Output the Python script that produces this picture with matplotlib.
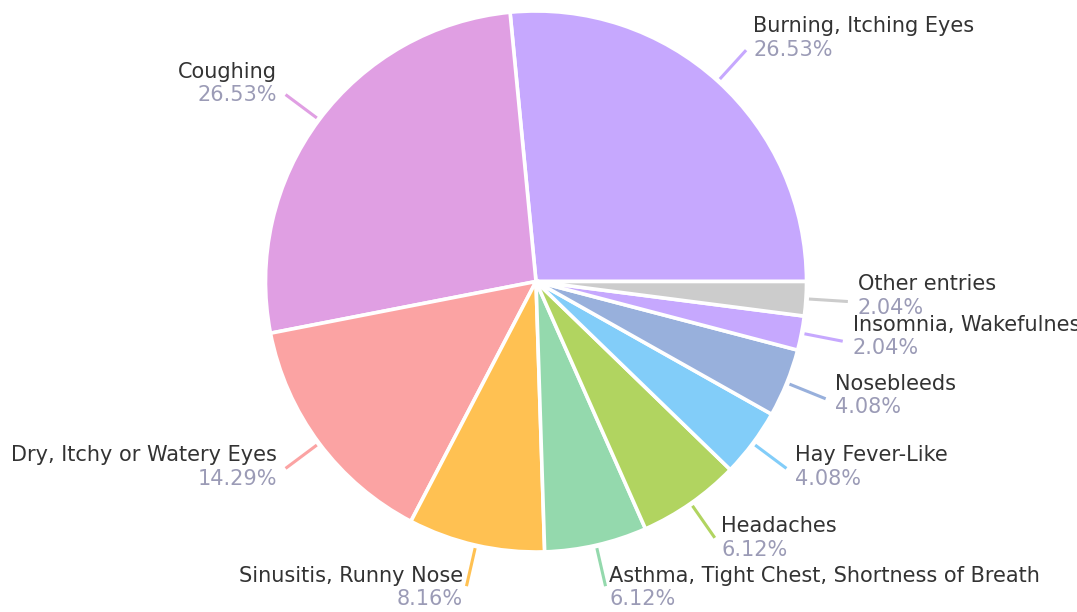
import matplotlib
matplotlib.use("Agg")  # headless

import matplotlib.pyplot as plt
import numpy as np

# --------------------------------------------------------------------------- #
# Data
# --------------------------------------------------------------------------- #

labels = [
    "Burning, Itching Eyes",
    "Coughing",
    "Dry, Itchy or Watery Eyes",
    "Sinusitis, Runny Nose",
    "Asthma, Tight Chest, Shortness of Breath",
    "Headaches",
    "Hay Fever-Like",
    "Nosebleeds",
    "Insomnia, Wakefulness",
    "Other entries",
]
counts = [13, 13, 7, 4, 3, 3, 2, 2, 1, 1]
colors = [
    "#c6a8fe", "#e09fe3", "#fba3a3", "#ffc152", "#94d9ad",
    "#b1d460", "#82cdf9", "#98b0dc", "#c6a8fe", "#cccccc",
]

NAME_COLOR = "#333333"
PCT_COLOR = "#9b9bb6"
FONT = ["DejaVu Sans"]

# canvas in pixels, y up
W, H = 1077, 612
CX, CY, R = 536, H - 281.5, 270.5

fig = plt.figure(figsize=(W / 100, H / 100), dpi=100)
ax = fig.add_axes([0, 0, 1, 1])
wedges, _ = ax.pie(
    counts, colors=colors, startangle=0, counterclock=True,
    radius=R, center=(CX, CY),
    wedgeprops=dict(edgecolor="white", linewidth=2.6),
)
ax.set_xlim(0, W); ax.set_ylim(0, H)
ax.set_aspect("equal"); ax.axis("off")

total = sum(counts)
for w, name, n, col in zip(wedges, labels, counts, colors):
    theta = np.deg2rad((w.theta1 + w.theta2) / 2)
    c, s = np.cos(theta), np.sin(theta)
    x0, y0 = CX + (R + 3) * c, CY + (R + 3) * s
    x1, y1 = CX + (R + 42) * c, CY + (R + 42) * s
    ax.plot([x0, x1], [y0, y1], color=col, lw=2.2, solid_capstyle="butt")

    # label sits just past the leader line: name on top, share below
    right = c >= 0
    ha = "left" if right else "right"
    tx = x1 + (2 + 8 * abs(c)) * (1 if right else -1)
    pct_base = y1 - (7 - 8 * s) - 4.5
    ax.text(tx, pct_base + 23.5, name, ha=ha, va="baseline",
            fontsize=15, color=NAME_COLOR, family=FONT)
    ax.text(tx, pct_base, f"{n / total * 100:.2f}%", ha=ha, va="baseline",
            fontsize=15, color=PCT_COLOR, family=FONT)

fig.savefig("out.png", dpi=100, facecolor="white")
